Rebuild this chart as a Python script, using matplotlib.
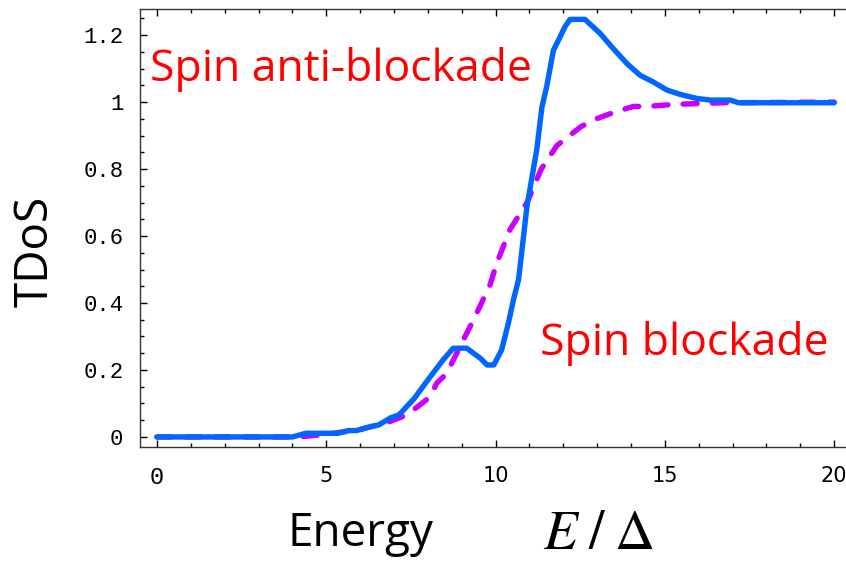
import numpy as np
import matplotlib.pyplot as plt
from matplotlib.ticker import MultipleLocator

# tunneling density of states vs energy (in units of Delta)
e_blue = [0, 4.0, 4.4, 5.35, 5.65, 5.9, 6.2, 6.55, 6.9, 7.15, 7.6, 8.0, 8.45,
          8.75, 9.15, 9.55, 9.75, 9.95, 10.18, 10.38, 10.53, 10.68, 10.93,
          11.22, 11.37, 11.51, 11.71, 11.86, 12.05, 12.2, 12.64, 13.09, 13.43,
          13.88, 14.27, 14.66, 15.06, 15.45, 15.94, 16.34, 16.93, 17.18, 20]
tdos_blue = [0, 0, 0.011, 0.011, 0.019, 0.019, 0.028, 0.036, 0.057, 0.066,
             0.115, 0.17, 0.23, 0.265, 0.265, 0.235, 0.215, 0.215, 0.26, 0.34,
             0.41, 0.47, 0.69, 0.86, 0.985, 1.046, 1.155, 1.185, 1.225, 1.247,
             1.247, 1.205, 1.165, 1.115, 1.08, 1.06, 1.036, 1.023, 1.011,
             1.006, 1.006, 0.998, 0.998]

e_mag = [0, 4.2, 5.0, 6.0, 6.88, 7.38, 7.77, 8.07, 8.26, 8.56, 8.95, 9.3,
         9.54, 9.84, 10.04, 10.43, 10.93, 11.35, 11.81, 12.5, 12.84, 13.38,
         13.68, 14.07, 14.47, 15.25, 16.34, 16.83, 20]
tdos_mag = [0, 0, 0.008, 0.022, 0.046, 0.066, 0.096, 0.12, 0.16, 0.19, 0.27,
            0.34, 0.39, 0.455, 0.52, 0.62, 0.70, 0.80, 0.87, 0.925, 0.945,
            0.965, 0.975, 0.987, 0.987, 0.993, 0.997, 0.998, 1.0]

xticks = [0, 5, 10, 15, 20]
yticks = [0, 0.2, 0.4, 0.6, 0.8, 1.0, 1.2]
ytick_labels = ['0', '0.2', '0.4', '0.6', '0.8', '1', '1.2']

plt.rcParams['mathtext.fontset'] = 'stix'

fig = plt.figure(figsize=(8.46, 5.61), dpi=100)
ax = fig.add_axes([140/846, 1 - 447/561, 1 - 140/846, (447 - 9)/561])

ax.plot(e_mag, tdos_mag, color='#CC00FF', lw=3.9, dashes=(2.6, 2.8),
        dash_capstyle='round', solid_capstyle='round', zorder=2)
ax.plot(e_blue, tdos_blue, color='#0066FF', lw=3.9,
        solid_capstyle='round', solid_joinstyle='round', zorder=3)

ax.set_xlim(-0.5, 20.35)
ax.set_ylim(-0.03, 1.278)

ax.spines['right'].set_visible(False)
for s in ['left', 'bottom', 'top']:
    ax.spines[s].set_linewidth(1.0)
    ax.spines[s].set_color('#333333')

ax.set_xticks(xticks)
ax.set_xticklabels([str(v) for v in xticks])
ax.set_yticks(yticks)
ax.set_yticklabels(ytick_labels)
ax.xaxis.set_minor_locator(MultipleLocator(1))
ax.yaxis.set_minor_locator(MultipleLocator(0.05))
ax.tick_params(which='both', direction='in', top=True, right=False)
ax.tick_params(which='major', length=5, width=1)
ax.tick_params(which='minor', length=3, width=1)
ax.tick_params(axis='y', pad=12)
ax.tick_params(axis='x', pad=14)

for lab in ax.get_yticklabels():
    lab.set_fontfamily('Liberation Mono')
    lab.set_fontsize(16)
for lab in ax.get_xticklabels():
    lab.set_fontfamily('DejaVu Sans')
    lab.set_fontsize(15)
ax.get_xticklabels()[0].set_fontfamily('Liberation Mono')
ax.get_xticklabels()[0].set_fontsize(17)

ax.text(-0.2, 1.062, 'Spin anti-blockade', color='red', fontsize=32,
        family='Open Sans')
ax.text(11.31, 0.245, 'Spin blockade', color='red', fontsize=32,
        family='Open Sans')

fig.text(0.042, 0.551, 'TDoS', rotation=90, ha='center', va='center',
         fontsize=33, family='Open Sans')
fig.text(287/846, 1 - 546/561, 'Energy', fontsize=33, family='Open Sans',
         va='baseline')
fig.text(543/846, 1 - 549/561, r'$E\;/\;\Delta$', fontsize=40,
         va='baseline')

plt.savefig('out.png', dpi=100)
